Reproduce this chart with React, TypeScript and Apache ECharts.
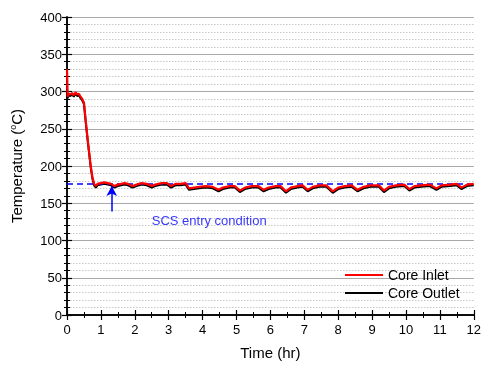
import React, { useEffect, useRef } from "react";
import * as echarts from "echarts";

const timeHr = [0, 0.02, 0.05, 0.1, 0.15, 0.2, 0.25, 0.3, 0.35, 0.4, 0.45, 0.5, 0.55, 0.6, 0.65, 0.7, 0.75, 0.8, 0.85, 0.9, 1.0, 1.1, 1.2, 1.3, 1.4, 1.5, 1.6, 1.7, 1.8, 1.93, 2.05, 2.2, 2.35, 2.5, 2.6, 2.8, 2.95, 3.07, 3.2, 3.35, 3.5, 3.6, 3.75, 3.9, 4.1, 4.3, 4.47, 4.6, 4.8, 4.95, 5.1, 5.25, 5.45, 5.65, 5.8, 5.95, 6.15, 6.3, 6.46, 6.6, 6.8, 6.95, 7.1, 7.25, 7.45, 7.65, 7.84, 8.0, 8.2, 8.4, 8.57, 8.75, 8.95, 9.2, 9.35, 9.5, 9.7, 9.95, 10.1, 10.25, 10.45, 10.7, 10.9, 11.05, 11.3, 11.5, 11.64, 11.8, 12];

const coreInlet = [330, 293, 297, 296, 298, 295, 299, 296, 297, 293, 290, 285, 262, 240, 220, 200, 185, 176, 173, 176, 177, 178, 177, 176, 173, 175, 176, 177, 176, 173, 175, 177, 176, 173, 175, 177, 177, 173, 176, 176, 177, 170, 171, 172, 173, 172, 168, 171, 173, 173, 167, 171, 173, 173, 168, 171, 173, 173, 166, 171, 173, 174, 168, 172, 174, 174, 166, 171, 173, 174, 168, 172, 174, 174, 167, 172, 174, 175, 169, 173, 174, 175, 170, 174, 175, 176, 171, 175, 176];

const coreOutlet = [300, 291, 295, 294, 296, 293, 297, 294, 295, 291, 288, 283, 260, 238, 218, 198, 183, 174, 171, 174, 175, 176, 175, 174, 171, 173, 174, 175, 174, 171, 173, 175, 174, 171, 173, 175, 175, 171, 174, 174, 175, 168, 169, 170, 171, 170, 166, 169, 171, 171, 165, 169, 171, 171, 166, 169, 171, 171, 164, 169, 171, 172, 166, 170, 172, 172, 164, 169, 171, 172, 166, 170, 172, 172, 165, 170, 172, 173, 167, 171, 172, 173, 168, 172, 173, 174, 169, 173, 174];

const scsEntryTemp = 176;
const arrowTime = 1.32;
const arrowFrom = 139;
const arrowTo = 173;
const annotation = { t: 2.5, v: 127, text: "SCS entry condition" };

const xTicks = [0, 12, 1];
const yTicks = [0, 400, 50];

const FONT = "'Liberation Sans', Arial, sans-serif";

export default function App() {
  const ref = useRef<HTMLDivElement>(null);
  useEffect(() => {
    const chart = echarts.init(ref.current!, null, { renderer: "svg" });
    const inlet = timeHr.map((t, i) => [t, coreInlet[i]]);
    const outlet = timeHr.map((t, i) => [t, coreOutlet[i]]);
    const axisLine = { show: true, lineStyle: { color: "#000", width: 1.5 } };
    chart.setOption({
      animation: false,
      textStyle: { fontFamily: FONT },
      grid: { left: 67, top: 17, right: 6, bottom: 48 },
      legend: {
        orient: "vertical",
        left: 340,
        top: 263,
        itemWidth: 38,
        itemHeight: 2,
        itemGap: 4,
        icon: "rect",
        data: ["Core Inlet", "Core Outlet"],
        textStyle: { fontSize: 14, color: "#000", fontFamily: FONT },
      },
      xAxis: [
        {
          type: "value",
          min: xTicks[0],
          max: xTicks[1],
          interval: xTicks[2],
          name: "Time (hr)",
          nameLocation: "middle",
          nameGap: 30,
          nameTextStyle: { fontSize: 15, color: "#000", fontFamily: FONT },
          axisLine,
          axisTick: { show: true, inside: true, length: 5, lineStyle: { color: "#000", width: 1.2 } },
          minorTick: { show: true, splitNumber: 2, length: 3, lineStyle: { color: "#000", width: 1 } },
          axisLabel: { fontSize: 13, color: "#000", margin: 8, fontFamily: FONT },
          splitLine: { show: false },
        },
        {
          type: "value",
          position: "top",
          min: xTicks[0],
          max: xTicks[1],
          interval: xTicks[2],
          axisLine,
          axisTick: { show: true, inside: true, length: 5, lineStyle: { color: "#000", width: 1.2 } },
          minorTick: { show: true, splitNumber: 2, length: 3, lineStyle: { color: "#000", width: 1 } },
          axisLabel: { show: false },
          splitLine: { show: false },
        },
      ],
      yAxis: [
        {
          type: "value",
          min: yTicks[0],
          max: yTicks[1],
          interval: yTicks[2],
          name: "{a|Temperature (}{sup|o}{a|C)}",
          nameLocation: "middle",
          nameGap: 42,
          nameTextStyle: {
            fontFamily: FONT,
            rich: {
              a: { fontSize: 15, color: "#000", fontFamily: FONT },
              sup: { fontSize: 9, color: "#000", fontFamily: FONT, padding: [0, 0, 8, 0] },
            },
          },
          axisLine,
          axisTick: { show: true, inside: true, length: 5, lineStyle: { color: "#000", width: 1.2 } },
          minorTick: { show: true, splitNumber: 5, length: 3, lineStyle: { color: "#000", width: 1 } },
          axisLabel: { fontSize: 13, color: "#000", margin: 5, fontFamily: FONT },
          splitLine: { show: true, lineStyle: { color: "#a8a8a8", width: 1 } },
          minorSplitLine: { show: true, lineStyle: { color: "#c8c8c8", width: 1, type: [1.5, 1.5] } },
        },
        {
          type: "value",
          position: "right",
          min: yTicks[0],
          max: yTicks[1],
          interval: yTicks[2],
          axisLine,
          axisTick: { show: true, inside: true, length: 5, lineStyle: { color: "#000", width: 1.2 } },
          minorTick: { show: true, splitNumber: 5, length: 3, lineStyle: { color: "#000", width: 1 } },
          axisLabel: { show: false },
          splitLine: { show: false },
        },
      ],
      series: [
        {
          name: "Core Outlet",
          type: "line",
          data: outlet,
          symbol: "none",
          z: 3,
          color: "#000",
          lineStyle: { color: "#000", width: 2 },
        },
        {
          name: "SCS entry",
          type: "line",
          data: [[xTicks[0], scsEntryTemp], [xTicks[1], scsEntryTemp]],
          symbol: "none",
          z: 4,
          lineStyle: { color: "#0000ff", width: 1.5, type: [6, 4] },
          markLine: {
            silent: true,
            symbol: ["none", "arrow"],
            symbolSize: [8, 10],
            label: { show: false },
            lineStyle: { color: "#0000ff", width: 1.5, type: "solid" },
            data: [[{ coord: [arrowTime, arrowFrom] }, { coord: [arrowTime, arrowTo] }]],
          },
        },
        {
          name: "Core Inlet",
          type: "line",
          data: inlet,
          symbol: "none",
          z: 5,
          color: "#ff0000",
          lineStyle: { color: "#ff0000", width: 2.2 },
        },
        {
          name: "annot",
          type: "scatter",
          data: [[annotation.t, annotation.v]],
          symbolSize: 0,
          silent: true,
          label: {
            show: true,
            position: "right",
            distance: 0,
            formatter: annotation.text,
            color: "#0000ff",
            fontSize: 13,
            fontFamily: FONT,
          },
        },
      ],
    });
    return () => chart.dispose();
  }, []);
  return <div ref={ref} style={{ width: 484, height: 365, position: "fixed", left: 0, top: 0 }} />;
}
